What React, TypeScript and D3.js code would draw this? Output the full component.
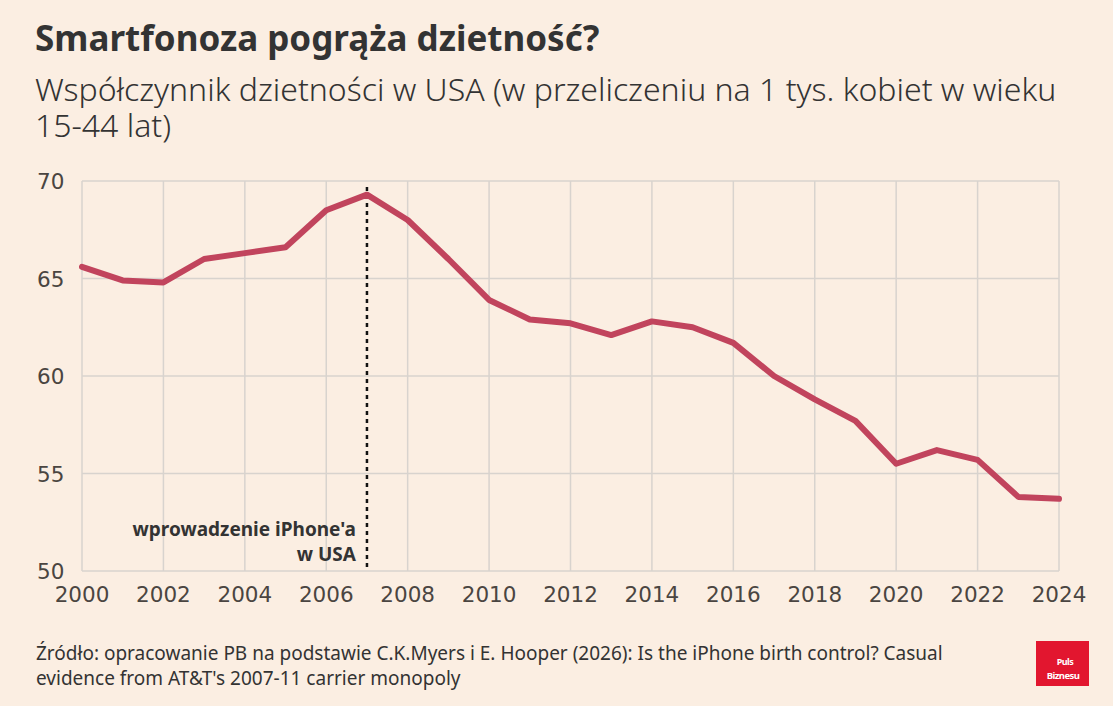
import React, { useEffect, useRef } from 'react'
import * as d3 from 'd3'

const years = [2000, 2001, 2002, 2003, 2004, 2005, 2006, 2007, 2008, 2009, 2010, 2011, 2012, 2013, 2014, 2015, 2016, 2017, 2018, 2019, 2020, 2021, 2022, 2023, 2024]
const fertility = [65.6, 64.9, 64.8, 66.0, 66.3, 66.6, 68.5, 69.3, 68.0, 66.0, 63.9, 62.9, 62.7, 62.1, 62.8, 62.5, 61.7, 60.0, 58.8, 57.7, 55.5, 56.2, 55.7, 53.8, 53.7]
const yTicks = [50, 55, 60, 65, 70]
const xTicks = [2000, 2002, 2004, 2006, 2008, 2010, 2012, 2014, 2016, 2018, 2020, 2022, 2024]
const markerYear = 2007
const markerLabel = ["wprowadzenie iPhone'a", 'w USA']

const title = 'Smartfonoza pogrąża dzietność?'
const subtitle = ['Współczynnik dzietności w USA (w przeliczeniu na 1 tys. kobiet w wieku', '15-44 lat)']
const source = ['Źródło: opracowanie PB na podstawie C.K.Myers i E. Hooper (2026): Is the iPhone birth control? Casual', "evidence from AT&T's 2007-11 carrier monopoly"]

export default function App() {
  const ref = useRef<HTMLDivElement | null>(null)

  useEffect(() => {
    document.body.style.margin = '0'
    document.body.style.background = '#fbeee2'
    const container = d3.select(ref.current!)
    container.selectAll('*').remove()
    const width = 1113
    const height = 706
    const margin = { top: 181, right: 54, bottom: 135, left: 82 }
    const font = '"Noto Sans", "Open Sans", sans-serif'
    const tickFont = '"DejaVu Sans", sans-serif'

    const svg = container.append('svg')
      .attr('width', width).attr('height', height)
      .style('display', 'block')
      .style('font-family', font)

    svg.append('rect').attr('width', width).attr('height', height).attr('fill', '#fbeee2')

    const x = d3.scaleLinear().domain([2000, 2024]).range([margin.left, width - margin.right])
    const y = d3.scaleLinear().domain([50, 70]).range([height - margin.bottom, margin.top])

    // grid
    const grid = svg.append('g').attr('stroke', '#d8d3ce').attr('stroke-width', 1.5)
    grid.selectAll('line.h').data(yTicks).enter().append('line')
      .attr('x1', x(2000)).attr('x2', x(2024))
      .attr('y1', d => y(d)).attr('y2', d => y(d))
    grid.selectAll('line.v').data(xTicks).enter().append('line')
      .attr('x1', d => x(d)).attr('x2', d => x(d))
      .attr('y1', y(70)).attr('y2', y(50))

    svg.append('g').selectAll('text').data(yTicks).enter().append('text')
      .attr('x', 37).attr('y', d => y(d) + 8)
      .attr('font-family', tickFont)
      .attr('font-size', 21.5).attr('fill', '#4a4541')
      .text(d => d)

    svg.append('g').selectAll('text').data(xTicks).enter().append('text')
      .attr('x', d => x(d)).attr('y', y(50) + 31)
      .attr('text-anchor', 'middle')
      .attr('font-family', tickFont)
      .attr('font-size', 21.5).attr('fill', '#4a4541')
      .text(d => d)

    // iPhone marker
    svg.append('line')
      .attr('x1', x(markerYear)).attr('x2', x(markerYear))
      .attr('y1', y(70) + 6).attr('y2', y(50))
      .attr('stroke', '#111').attr('stroke-width', 2.5)
      .attr('stroke-dasharray', '4,4')

    svg.append('g').selectAll('text').data(markerLabel).enter().append('text')
      .attr('x', x(markerYear) - 11).attr('y', (_, i) => y(50) - 35 + i * 25)
      .attr('text-anchor', 'end')
      .attr('font-size', 19).attr('font-weight', 700).attr('fill', '#333')
      .text(d => d)

    const line = d3.line<number>()
      .x((_, i) => x(years[i]))
      .y(d => y(d))

    svg.append('path').datum(fertility)
      .attr('d', line)
      .attr('fill', 'none')
      .attr('stroke', '#c1445d')
      .attr('stroke-width', 6)
      .attr('stroke-linejoin', 'round')
      .attr('stroke-linecap', 'round')

    svg.append('text').attr('x', 35).attr('y', 51)
      .attr('font-size', 35).attr('font-weight', 700).attr('fill', '#333')
      .text(title)

    svg.append('g').selectAll('text').data(subtitle).enter().append('text')
      .attr('x', 35).attr('y', (_, i) => 101 + i * 36)
      .attr('font-size', 32).attr('font-weight', 300).attr('fill', '#333')
      .text(d => d)

    svg.append('g').selectAll('text').data(source).enter().append('text')
      .attr('x', 36).attr('y', (_, i) => 660 + i * 25)
      .attr('font-size', 19).attr('fill', '#333')
      .text(d => d)

    // logo
    const logo = svg.append('g').attr('transform', 'translate(1036,641)')
    logo.append('rect').attr('width', 53).attr('height', 45).attr('fill', '#e2162f')
    logo.append('text').attr('x', 29).attr('y', 24)
      .attr('text-anchor', 'middle').attr('font-size', 9).attr('font-weight', 700)
      .attr('fill', '#fff').attr('letter-spacing', -0.5).text('Puls')
    logo.append('text').attr('x', 27).attr('y', 37.5)
      .attr('text-anchor', 'middle').attr('font-size', 9.5).attr('font-weight', 700)
      .attr('fill', '#fff').attr('letter-spacing', -0.6).text('Biznesu')
  }, [])

  return <div ref={ref} />
}
